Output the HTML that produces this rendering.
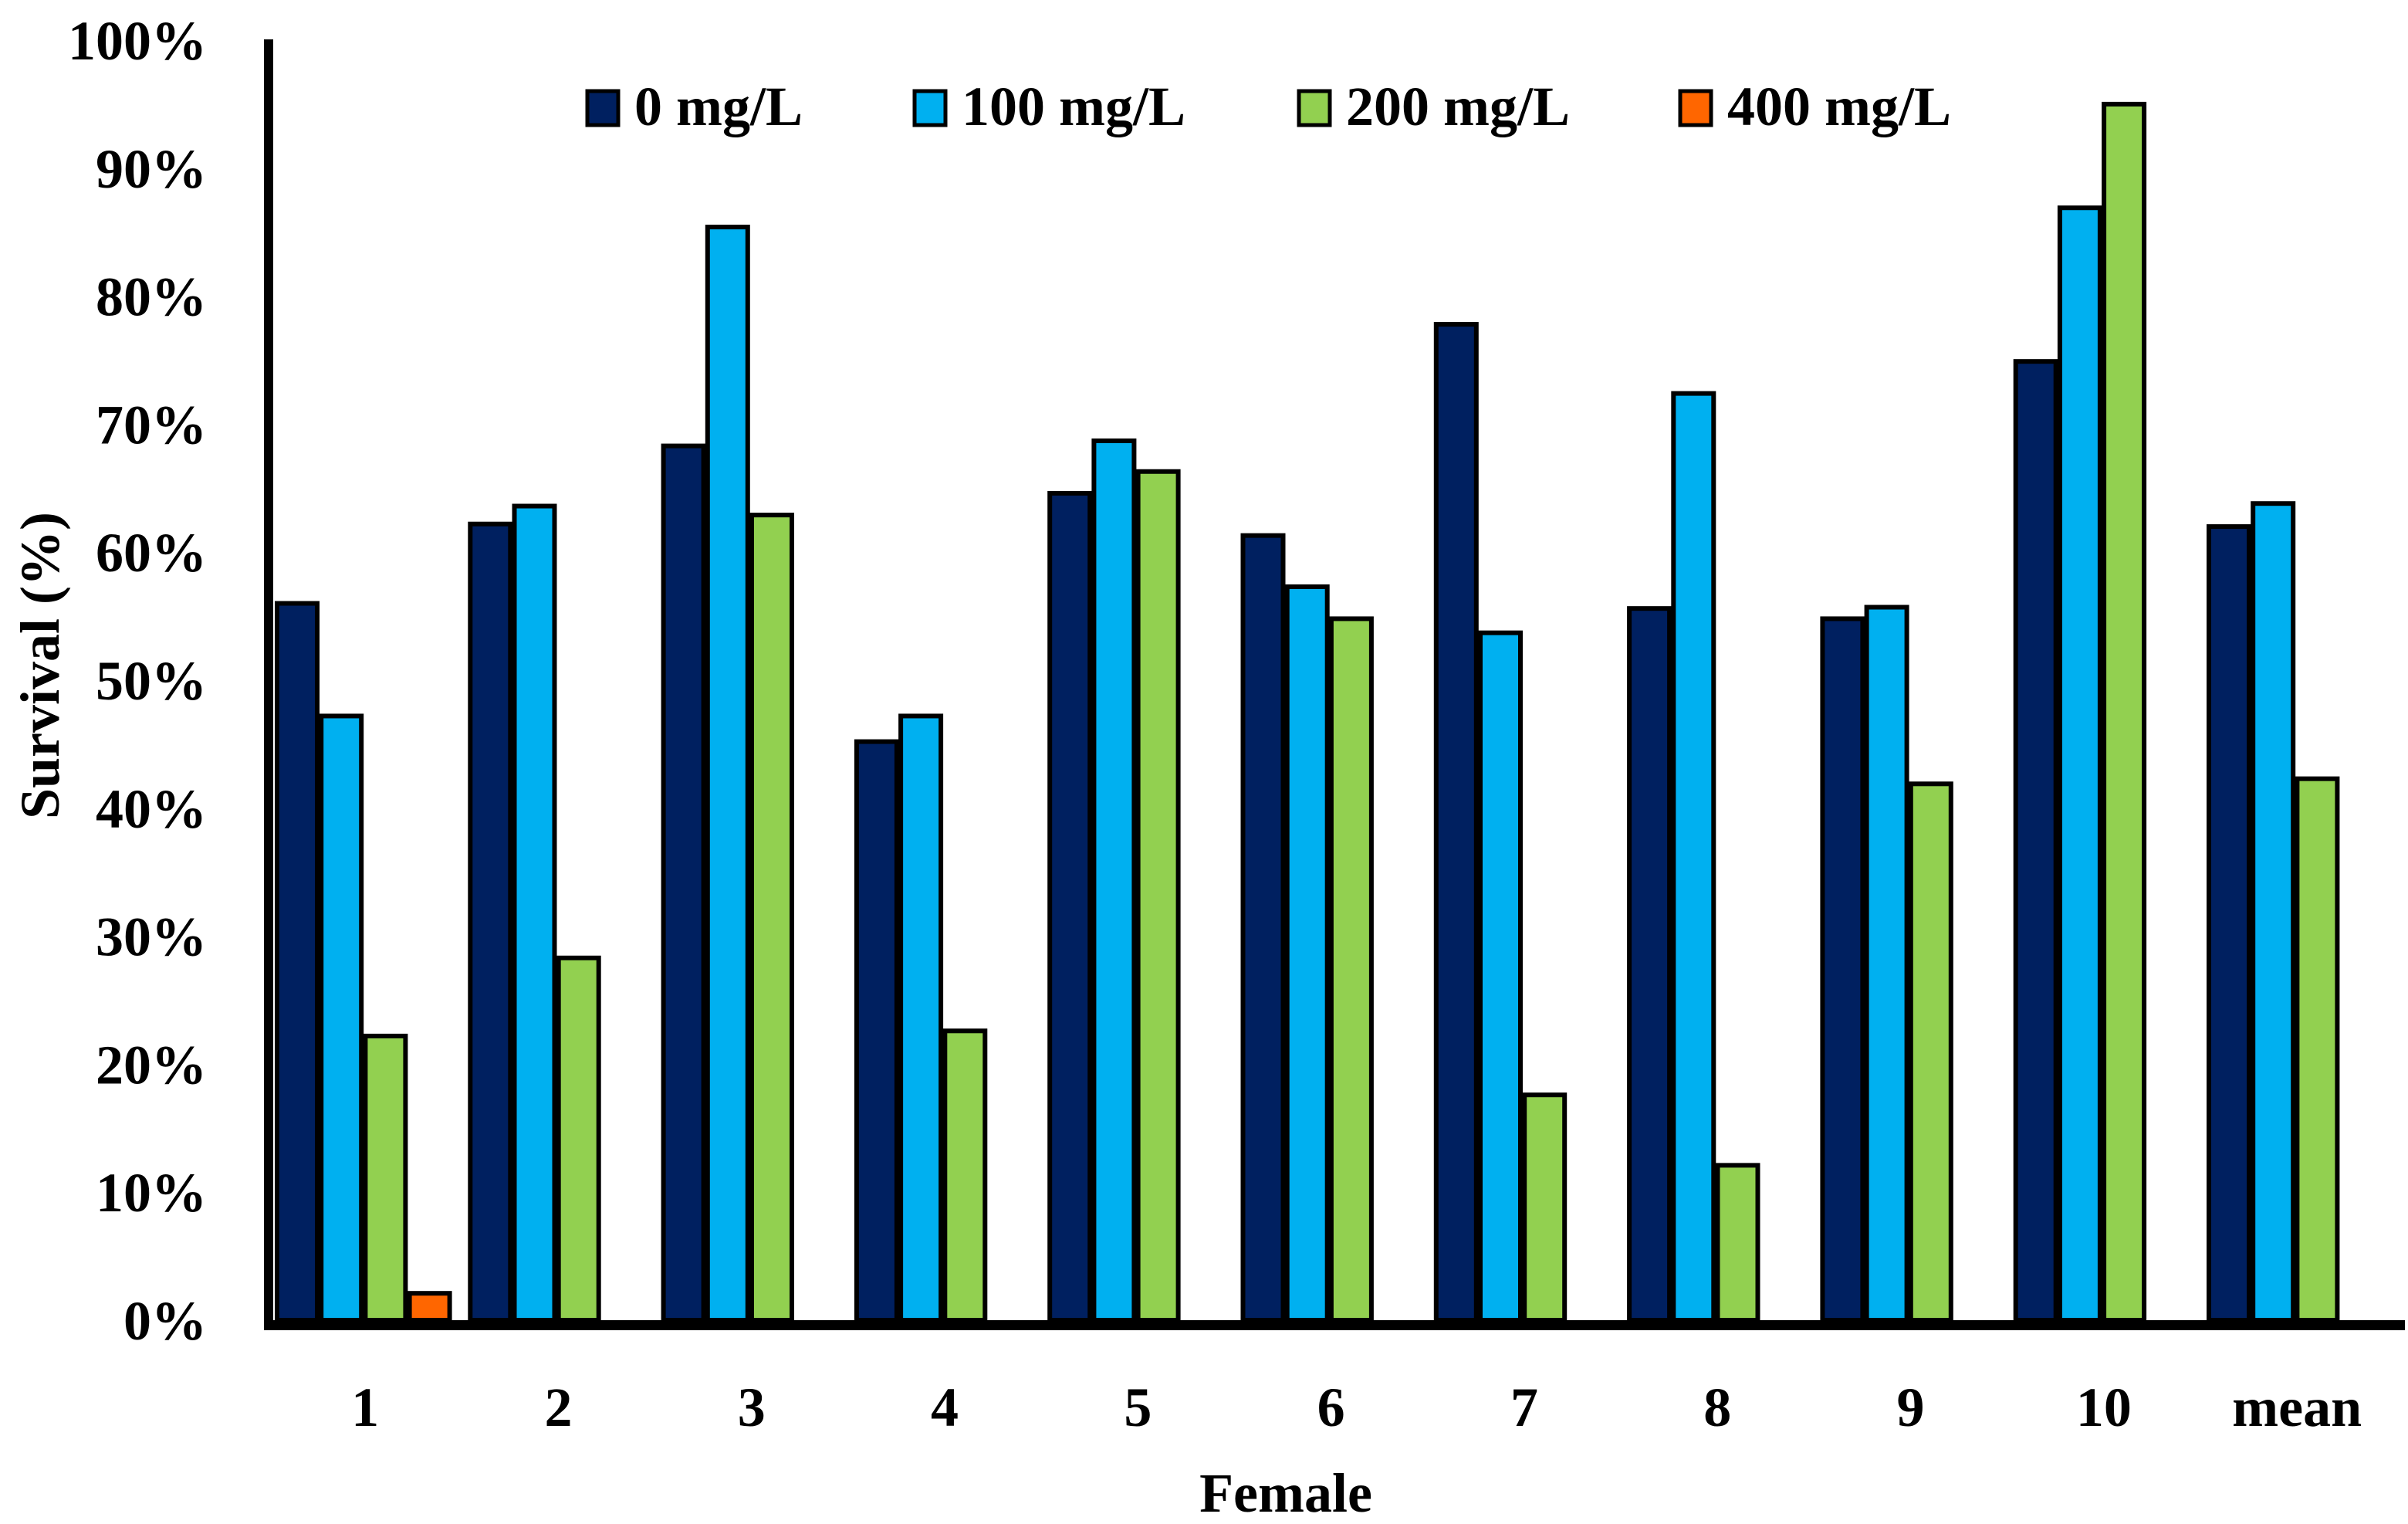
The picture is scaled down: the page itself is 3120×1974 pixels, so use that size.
<!DOCTYPE html>
<html><head><meta charset="utf-8"><style>
html,body{margin:0;padding:0;background:#fff;}
svg{display:block;font-family:"Liberation Serif",serif;font-weight:bold;}
</style></head><body>
<svg id="chart" width="3120" height="1974" viewBox="0 0 3120 1974" xmlns="http://www.w3.org/2000/svg"></svg>
<script>
const categories = ["1","2","3","4","5","6","7","8","9","10","mean"];
const seriesNames = ["0 mg/L","100 mg/L","200 mg/L","400 mg/L"];
const s0 = [56, 62.2, 68.3, 45.2, 64.6, 61.3, 77.8, 55.6, 54.8, 74.9, 62];
const s100 = [47.2, 63.6, 85.4, 47.2, 68.7, 57.3, 53.7, 72.4, 55.7, 86.9, 63.8];
const s200 = [22.2, 28.3, 62.9, 22.6, 66.3, 54.8, 17.6, 12.1, 41.9, 95, 42.3];
const s400 = [2.1, 0, 0, 0, 0, 0, 0, 0, 0, 0, 0];
const yTicks = [0,10,20,30,40,50,60,70,80,90,100];
const yTickLabels = ["0%","10%","20%","30%","40%","50%","60%","70%","80%","90%","100%"];
const colors = ["#002060","#00B0F0","#92D050","#FF6600"];

const NS = "http://www.w3.org/2000/svg";
const svg = document.getElementById("chart");
const y0 = 1710, y100 = 52;
const yScale = v => y0 - (v/100)*(y0-y100);
const axisX = 348, groupW = 250.3;
const xGroup = i => axisX + groupW*i;
function mk(tag, attrs){const e=document.createElementNS(NS,tag);for(const k in attrs)e.setAttribute(k,attrs[k]);svg.appendChild(e);return e;}

const series = [s0,s100,s200,s400];
series.forEach((arr,si)=>{
  arr.forEach((v,i)=>{
    if(v<=0) return;
    const x = xGroup(i)+11+si*57.2;
    const r = mk("rect",{x:x,y:yScale(v),width:52,height:y0-yScale(v),fill:colors[si],stroke:"#000","stroke-width":6});
    
    
  });
});
const ya = mk("rect",{x:342,y:51,width:12,height:1672,fill:"#000"});


const xa = mk("rect",{x:348,y:1710,width:2768,height:13,fill:"#000"});


yTicks.forEach((t,i)=>{
  const tx = mk("text",{x:268,y:yScale(t)+25,"text-anchor":"end","font-size":72});
  tx.textContent = yTickLabels[i];
  
  
});
categories.forEach((c,i)=>{
  const tx = mk("text",{x:xGroup(i)+groupW/2,y:1847,"text-anchor":"middle","font-size":72});
  tx.textContent = c;
  
  
});
const xt = mk("text",{x:1666,y:1958,"text-anchor":"middle","font-size":72});
xt.textContent = "Female";


const yt = mk("text",{x:0,y:0,"text-anchor":"middle","font-size":72,transform:"translate(76,862) rotate(-90)"});
yt.textContent = "Survival (%)";


const legX = [758,1182,1680,2174];
seriesNames.forEach((n,i)=>{
  const r = mk("rect",{x:legX[i]+3,y:118,width:40,height:44,fill:colors[i],stroke:"#000","stroke-width":5});
  
  
  const t = mk("text",{x:legX[i]+64,y:162,"font-size":72});
  t.textContent = n;
  
  
});
</script>
</body></html>
